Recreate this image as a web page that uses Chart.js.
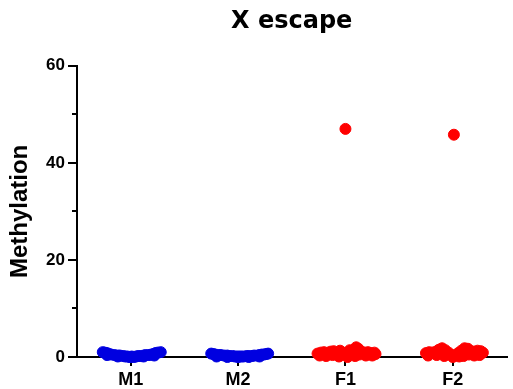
<!DOCTYPE html>
<html lang="en">
<head>
<meta charset="UTF-8">
<title>X escape</title>
<script src="https://cdn.jsdelivr.net/npm/chart.js@4.4.1/dist/chart.umd.min.js"></script>
<style>
  html, body { margin: 0; padding: 0; background: #fff; }
  #wrap { width: 513px; height: 389px; }
</style>
</head>
<body>
<div id="wrap"><canvas id="chart"></canvas></div>
<script>
const groups = ['M1', 'M2', 'F1', 'F2'];
const minorTicks = [10, 30, 50];

// each point: horizontal spread inside its column, and the methylation value
const m1Offset = [-0.26, -0.24, -0.22, -0.2, -0.18, -0.15, -0.12, -0.1, -0.07, -0.05, -0.03, -0.01, 0.01, 0.03, 0.05, 0.07, 0.09, 0.12, 0.14, 0.17, 0.19, 0.21, 0.23, 0.25, 0.28, -0.22, -0.12, 0, 0.12, 0.22];
const m1Values = [1.0, 0.9, 0.8, 0.6, 0.5, 0.4, 0.3, 0.3, 0.2, 0.1, 0.1, 0.0, 0.1, 0.0, 0.1, 0.2, 0.2, 0.3, 0.4, 0.4, 0.5, 0.6, 0.8, 0.9, 1.0, 0.4, 0.1, 0.0, 0.1, 0.3];

const m2Offset = [-0.25, -0.23, -0.21, -0.18, -0.16, -0.13, -0.1, -0.08, -0.05, -0.03, -0.01, 0.01, 0.03, 0.05, 0.08, 0.1, 0.13, 0.15, 0.18, 0.2, 0.22, 0.24, 0.26, 0.28, -0.2, -0.1, 0, 0.1, 0.2];
const m2Values = [0.7, 0.6, 0.5, 0.4, 0.4, 0.3, 0.3, 0.2, 0.2, 0.1, 0.1, 0.1, 0.1, 0.1, 0.2, 0.2, 0.2, 0.3, 0.3, 0.4, 0.5, 0.5, 0.6, 0.7, 0.1, 0.0, 0.0, 0.0, 0.1];

const f1Offset = [-0.26, -0.23, -0.2, -0.17, -0.14, -0.11, -0.08, -0.05, -0.02, 0.01, 0.04, 0.07, 0.1, 0.12, 0.15, 0.18, 0.21, 0.24, 0.27, 0.28, -0.24, -0.18, -0.12, -0.06, 0.02, 0.09, 0.13, 0.19, 0.25, 0.0];
const f1Values = [0.7, 0.9, 1.0, 0.8, 1.1, 1.2, 1.0, 1.3, 0.9, 0.6, 1.4, 1.2, 2.0, 1.7, 1.1, 0.9, 1.0, 0.8, 0.9, 0.6, 0.3, 0.2, 0.4, 0.1, 0.0, 0.2, 0.5, 0.3, 0.3, 47.0];

const f2Offset = [-0.25, -0.22, -0.19, -0.16, -0.13, -0.1, -0.07, -0.04, -0.01, 0.02, 0.05, 0.08, 0.11, 0.14, 0.17, 0.2, 0.23, 0.26, 0.28, -0.23, -0.15, -0.08, 0.0, 0.06, 0.1, 0.15, 0.2, 0.25, 0.01];
const f2Values = [0.8, 1.0, 0.9, 1.1, 1.5, 1.8, 1.4, 0.9, 0.4, 0.3, 0.8, 1.3, 1.8, 1.7, 1.2, 1.1, 1.3, 1.2, 0.9, 0.3, 0.4, 0.2, 0.0, 0.1, 0.2, 0.5, 0.3, 0.4, 45.8];

const blue = '#0000e0';
const red = '#ff0000';
const font = "'Liberation Sans', Arial, sans-serif";

function points(col, offsets, values) {
  return offsets.map((o, i) => ({ x: col + o, y: values[i] }));
}

function column(col, offsets, values, color) {
  return {
    data: points(col, offsets, values),
    backgroundColor: color,
    borderColor: color,
    borderWidth: 1,
    pointRadius: 5.5,
    pointHoverRadius: 5.5,
    clip: false
  };
}

const minorTickPlugin = {
  id: 'minorTicks',
  afterDraw(chart) {
    const y = chart.scales.y;
    const ctx = chart.ctx;
    ctx.save();
    ctx.strokeStyle = '#000';
    ctx.lineWidth = 2;
    minorTicks.forEach(v => {
      const py = Math.round(y.getPixelForValue(v));
      ctx.beginPath();
      ctx.moveTo(y.right - 5, py);
      ctx.lineTo(y.right, py);
      ctx.stroke();
    });
    ctx.restore();
  }
};

new Chart(document.getElementById('chart'), {
  type: 'scatter',
  data: {
    datasets: [
      column(1, m1Offset, m1Values, blue),
      column(2, m2Offset, m2Values, blue),
      column(3, f1Offset, f1Values, red),
      column(4, f2Offset, f2Values, red)
    ]
  },
  options: {
    responsive: true,
    maintainAspectRatio: false,
    animation: false,
    layout: { padding: 0 },
    plugins: {
      legend: { display: false },
      tooltip: { enabled: false },
      title: {
        display: true,
        text: 'X escape',
        fullSize: false,
        color: '#000',
        font: { family: "'DejaVu Sans', sans-serif", size: 24, weight: 'bold' },
        padding: { top: 7, bottom: 30 }
      }
    },
    scales: {
      x: {
        type: 'linear',
        min: 0.5,
        max: 4.5,
        afterBuildTicks: s => { s.ticks = groups.map((g, i) => ({ value: i + 1 })); },
        afterFit: s => { s.height = 32; },
        ticks: {
          callback: v => groups[Math.round(v) - 1],
          autoSkip: false,
          maxRotation: 0,
          color: '#000',
          padding: 3,
          font: { family: font, size: 18, weight: 'bold' }
        },
        grid: { drawOnChartArea: false, tickLength: 9, color: '#000', lineWidth: 2 },
        border: { color: '#000', width: 2 }
      },
      y: {
        min: 0,
        max: 60,
        afterFit: s => { s.width = 77; },
        ticks: {
          stepSize: 10,
          callback: v => (v % 20 === 0 ? v : ''),
          color: '#000',
          padding: 3,
          font: { family: font, size: 17, weight: 'bold' }
        },
        grid: {
          drawOnChartArea: false,
          tickLength: 9,
          lineWidth: 2,
          color: c => (c.tick && c.tick.value % 20 === 0 ? '#000' : 'rgba(0,0,0,0)')
        },
        border: { color: '#000', width: 2 },
        title: {
          display: true,
          text: 'Methylation',
          color: '#000',
          padding: { top: 6, bottom: 0 },
          font: { family: font, size: 24, weight: 'bold' }
        }
      }
    }
  },
  plugins: [minorTickPlugin]
});
</script>
</body>
</html>
